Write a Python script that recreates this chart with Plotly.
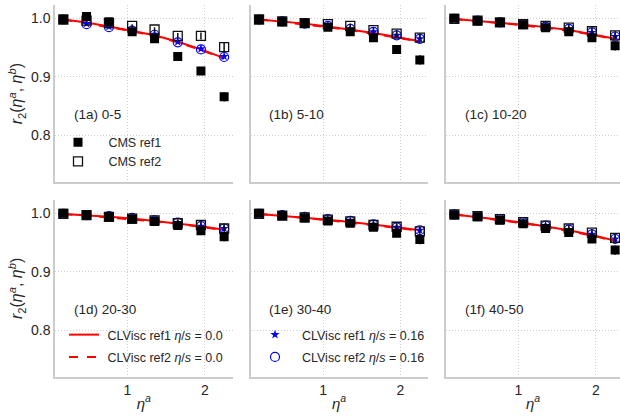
import plotly.graph_objects as go

# ---------------- data ----------------
eta_a = [0.17, 0.47, 0.76, 1.06, 1.35, 1.65, 1.95, 2.25]
panel_labels = ["(1a) 0-5", "(1b) 5-10", "(1c) 10-20", "(1d) 20-30", "(1e) 30-40", "(1f) 40-50"]
y_ticks = [0.8, 0.9, 1.0]
x_ticks = [1, 2]

cms_ref1_1a = [0.998, 1.003, 0.994, 0.977, 0.965, 0.935, 0.910, 0.866]
cms_ref1_1b = [0.998, 0.994, 0.991, 0.985, 0.977, 0.967, 0.947, 0.929]
cms_ref1_1c = [1.000, 0.996, 0.993, 0.989, 0.984, 0.977, 0.967, 0.953]
cms_ref1_1d = [1.000, 0.997, 0.994, 0.990, 0.986, 0.979, 0.970, 0.960]
cms_ref1_1e = [1.000, 0.996, 0.992, 0.987, 0.983, 0.976, 0.966, 0.955]
cms_ref1_1f = [0.997, 0.994, 0.988, 0.982, 0.974, 0.967, 0.956, 0.937]
cms_ref1_err = [0.002, 0.002, 0.002, 0.003, 0.003, 0.004, 0.005, 0.008]

cms_ref2_1a = [0.998, 0.996, 0.992, 0.987, 0.981, 0.970, 0.970, 0.951]
cms_ref2_1b = [0.998, 0.995, 0.992, 0.990, 0.987, 0.980, 0.974, 0.967]
cms_ref2_1c = [0.999, 0.996, 0.993, 0.990, 0.987, 0.984, 0.978, 0.971]
cms_ref2_1d = [0.999, 0.997, 0.994, 0.991, 0.988, 0.983, 0.980, 0.974]
cms_ref2_1e = [0.999, 0.996, 0.993, 0.989, 0.986, 0.980, 0.977, 0.969]
cms_ref2_1f = [0.998, 0.995, 0.990, 0.985, 0.979, 0.974, 0.967, 0.958]
cms_ref2_err = [0.002, 0.002, 0.002, 0.003, 0.004, 0.005, 0.006, 0.007]

clv_ref1_ideal_1a = [0.998, 0.993, 0.986, 0.979, 0.971, 0.960, 0.947, 0.932]
clv_ref1_ideal_1b = [0.998, 0.995, 0.991, 0.986, 0.981, 0.975, 0.968, 0.961]
clv_ref1_ideal_1c = [0.999, 0.996, 0.993, 0.989, 0.985, 0.980, 0.973, 0.965]
clv_ref1_ideal_1d = [0.999, 0.997, 0.994, 0.991, 0.987, 0.983, 0.978, 0.972]
clv_ref1_ideal_1e = [0.999, 0.996, 0.993, 0.989, 0.985, 0.981, 0.976, 0.971]
clv_ref1_ideal_1f = [0.998, 0.994, 0.989, 0.984, 0.978, 0.971, 0.963, 0.953]

clv_ref2_ideal_1a = [0.998, 0.992, 0.985, 0.978, 0.970, 0.959, 0.946, 0.931]
clv_ref2_ideal_1b = [0.998, 0.994, 0.990, 0.985, 0.980, 0.974, 0.967, 0.960]
clv_ref2_ideal_1c = [0.999, 0.996, 0.992, 0.988, 0.984, 0.979, 0.972, 0.964]
clv_ref2_ideal_1d = [0.999, 0.996, 0.993, 0.990, 0.986, 0.982, 0.977, 0.971]
clv_ref2_ideal_1e = [0.999, 0.996, 0.992, 0.988, 0.984, 0.980, 0.975, 0.970]
clv_ref2_ideal_1f = [0.998, 0.993, 0.988, 0.983, 0.977, 0.970, 0.962, 0.952]

clv_ref1_visc_1a = [0.998, 0.991, 0.986, 0.980, 0.973, 0.960, 0.948, 0.935]
clv_ref1_visc_1b = [0.998, 0.995, 0.991, 0.987, 0.982, 0.977, 0.971, 0.965]
clv_ref1_visc_1c = [0.999, 0.996, 0.993, 0.990, 0.986, 0.982, 0.976, 0.969]
clv_ref1_visc_1d = [0.999, 0.997, 0.995, 0.992, 0.988, 0.984, 0.978, 0.974]
clv_ref1_visc_1e = [0.999, 0.997, 0.994, 0.990, 0.987, 0.981, 0.976, 0.971]
clv_ref1_visc_1f = [0.998, 0.995, 0.990, 0.985, 0.979, 0.972, 0.964, 0.956]

clv_ref2_visc_1a = [0.998, 0.990, 0.985, 0.979, 0.972, 0.959, 0.947, 0.934]
clv_ref2_visc_1b = [0.998, 0.995, 0.991, 0.987, 0.982, 0.977, 0.971, 0.965]
clv_ref2_visc_1c = [0.999, 0.996, 0.993, 0.990, 0.986, 0.982, 0.976, 0.969]
clv_ref2_visc_1d = [0.999, 0.997, 0.995, 0.992, 0.988, 0.984, 0.978, 0.974]
clv_ref2_visc_1e = [0.999, 0.997, 0.994, 0.990, 0.987, 0.981, 0.976, 0.971]
clv_ref2_visc_1f = [0.998, 0.995, 0.990, 0.985, 0.979, 0.972, 0.964, 0.956]

cms_ref1 = [cms_ref1_1a, cms_ref1_1b, cms_ref1_1c, cms_ref1_1d, cms_ref1_1e, cms_ref1_1f]
cms_ref2 = [cms_ref2_1a, cms_ref2_1b, cms_ref2_1c, cms_ref2_1d, cms_ref2_1e, cms_ref2_1f]
clv_ref1_ideal = [clv_ref1_ideal_1a, clv_ref1_ideal_1b, clv_ref1_ideal_1c, clv_ref1_ideal_1d, clv_ref1_ideal_1e, clv_ref1_ideal_1f]
clv_ref2_ideal = [clv_ref2_ideal_1a, clv_ref2_ideal_1b, clv_ref2_ideal_1c, clv_ref2_ideal_1d, clv_ref2_ideal_1e, clv_ref2_ideal_1f]
clv_ref1_visc = [clv_ref1_visc_1a, clv_ref1_visc_1b, clv_ref1_visc_1c, clv_ref1_visc_1d, clv_ref1_visc_1e, clv_ref1_visc_1f]
clv_ref2_visc = [clv_ref2_visc_1a, clv_ref2_visc_1b, clv_ref2_visc_1c, clv_ref2_visc_1d, clv_ref2_visc_1e, clv_ref2_visc_1f]

# ---------------- layout geometry ----------------
W, H = 620, 416
col_px = [(55, 232.7), (250.7, 427.5), (446, 620)]
row_px = [(5, 182.3), (200, 376.7)]
PX_PER_UNIT = 77.3
X0 = 0.062
Y_RANGE = [0.72, 1.0228]

FONT = "Arial, Liberation Sans, sans-serif"
TXT = "#262626"
SPINE = "#cccccc"
GRID = "#cfcfcf"
SP = "&nbsp;"

fig = go.Figure()

for i in range(6):
    r, c = divmod(i, 3)
    xa = "x" if i == 0 else f"x{i+1}"
    ya = "y" if i == 0 else f"y{i+1}"
    # lines
    fig.add_trace(go.Scatter(x=eta_a, y=clv_ref1_ideal[i], mode="lines", xaxis=xa, yaxis=ya,
                             line=dict(color="#ff0000", width=2),
                             name=SP + "CLVisc ref1 <i>η</i>/<i>s</i> = 0.0", legendgroup="l1",
                             showlegend=(i == 3), legend="legend2"))
    fig.add_trace(go.Scatter(x=eta_a, y=clv_ref2_ideal[i], mode="lines", xaxis=xa, yaxis=ya,
                             line=dict(color="#ff0000", width=2, dash="dash"),
                             name=SP + "CLVisc ref2 <i>η</i>/<i>s</i> = 0.0", legendgroup="l2",
                             showlegend=(i == 3), legend="legend2"))
    # viscous markers
    fig.add_trace(go.Scatter(x=eta_a, y=clv_ref1_visc[i], mode="markers", xaxis=xa, yaxis=ya,
                             marker=dict(symbol="star", size=7, color="#0000ff", line=dict(width=0)),
                             name=SP + SP + "CLVisc ref1 <i>η</i>/<i>s</i> = 0.16", legendgroup="v1",
                             showlegend=(i == 4), legend="legend3"))
    fig.add_trace(go.Scatter(x=eta_a, y=clv_ref2_visc[i], mode="markers", xaxis=xa, yaxis=ya,
                             marker=dict(symbol="circle-open", size=9, color="#0000ff", line=dict(width=1.2)),
                             name=SP + SP + "CLVisc ref2 <i>η</i>/<i>s</i> = 0.16", legendgroup="v2",
                             showlegend=(i == 4), legend="legend3"))
    # CMS data
    fig.add_trace(go.Scatter(x=eta_a, y=cms_ref2[i], mode="markers", xaxis=xa, yaxis=ya,
                             marker=dict(symbol="square-open", size=9, color="#111111", line=dict(width=1.3)),
                             error_y=dict(type="data", array=cms_ref2_err, color="#111111", thickness=1.5, width=0),
                             name=SP + SP + SP + "CMS ref2", showlegend=(i == 0), legend="legend"))
    fig.add_trace(go.Scatter(x=eta_a, y=cms_ref1[i], mode="markers", xaxis=xa, yaxis=ya,
                             marker=dict(symbol="square", size=9, color="#000000"),
                             error_y=dict(type="data", array=cms_ref1_err, color="#000000", thickness=1.5, width=0),
                             name=SP + SP + SP + "CMS ref1", showlegend=(i == 0), legend="legend"))

    x_lo, x_hi = col_px[c]
    y_top, y_bot = row_px[r]
    xr = [X0, X0 + (x_hi - x_lo) / PX_PER_UNIT]
    axis_common = dict(showgrid=True, gridcolor=GRID, griddash="1px,2px", gridwidth=1,
                       showline=True, linecolor=SPINE, linewidth=1.5, zeroline=False,
                       automargin=False,
                       ticks="", tickfont=dict(family=FONT, size=14, color=TXT))
    xkey = "xaxis" if i == 0 else f"xaxis{i+1}"
    ykey = "yaxis" if i == 0 else f"yaxis{i+1}"
    fig.layout[xkey] = dict(domain=[x_lo / W, x_hi / W], range=xr, anchor=ya,
                            tickvals=x_ticks, showticklabels=(r == 1),
                            title=dict(text="<i>η</i><sup><i>a</i></sup>" if r == 1 else "",
                                       font=dict(family=FONT, size=15, color=TXT), standoff=1),
                            **axis_common)
    fig.layout[ykey] = dict(domain=[(H - y_bot) / H, (H - y_top) / H], range=Y_RANGE, anchor=xa,
                            tickvals=y_ticks, ticktext=[f"{v:.1f}" for v in y_ticks],
                            showticklabels=(c == 0),
                            title=dict(text="<i>r</i><sub>2</sub>(<i>η</i><sup><i>a</i></sup>, <i>η</i><sup><i>b</i></sup>)" if c == 0 else "",
                                       font=dict(family=FONT, size=16, color=TXT), standoff=4),
                            **axis_common)
    fig.add_annotation(text=panel_labels[i], xref=f"{xa} domain", yref=f"{ya} domain",
                       x=0.095, y=0.38, xanchor="left", yanchor="middle", showarrow=False,
                       font=dict(family=FONT, size=13.5, color=TXT))

leg_common = dict(bgcolor="rgba(0,0,0,0)", borderwidth=0, font=dict(family=FONT, size=12.5, color=TXT),
                  xanchor="left", yanchor="top", itemclick=False)
fig.update_layout(
    width=W, height=H, margin=dict(l=0, r=0, t=0, b=0),
    paper_bgcolor="white", plot_bgcolor="white",
    showlegend=True,
    legend=dict(x=58 / W, y=(H - 127.5) / H, traceorder="reversed", **leg_common),
    legend2=dict(x=64 / W, y=(H - 320) / H, traceorder="grouped", tracegroupgap=3, **leg_common),
    legend3=dict(x=255 / W, y=(H - 320) / H, traceorder="grouped", tracegroupgap=3, **leg_common),
)

fig.write_html("out.html", config={"displayModeBar": False},
               post_script="document.body.style.margin='0';document.body.style.overflow='hidden';")
